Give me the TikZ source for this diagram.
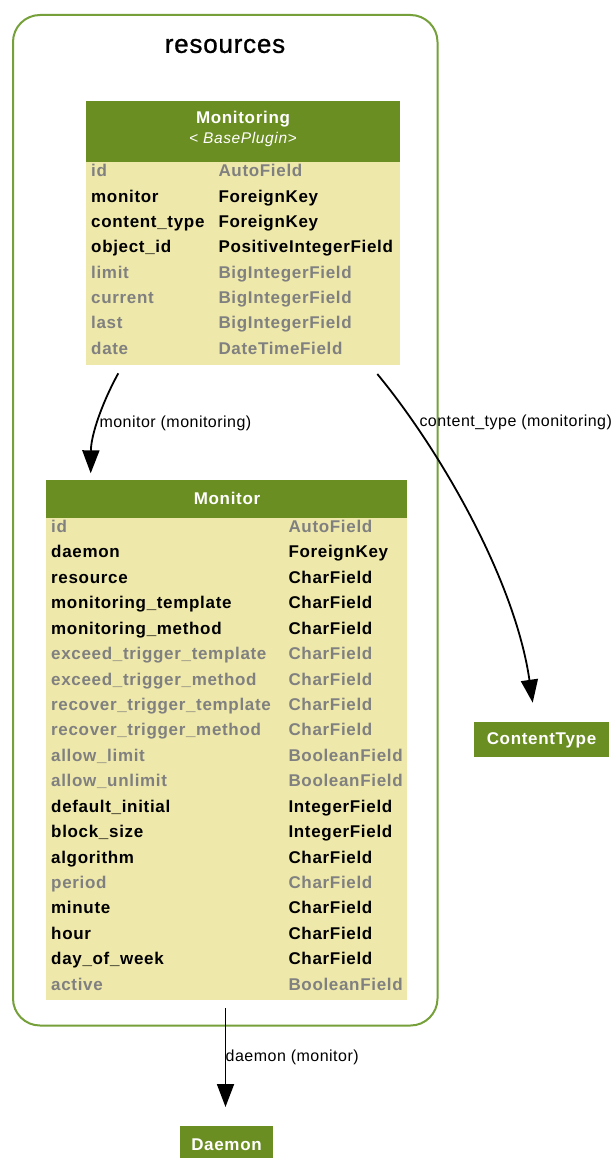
\documentclass[tikz,border=0pt]{standalone}
\usepackage{fontspec}
\usetikzlibrary{arrows.meta}
\newfontfamily\fieldfamily{Liberation Sans}[LetterSpace=4]
\newfontfamily\labelfamily{Liberation Sans}[LetterSpace=3]
\newfontfamily\titlefamily{Liberation Sans}[LetterSpace=3,FakeBold=1]
\definecolor{hdrgreen}{RGB}{107,142,35}
\definecolor{clustergreen}{RGB}{118,160,58}
\definecolor{bodyyellow}{RGB}{238,232,170}
\definecolor{fieldgray}{RGB}{128,128,128}
\tikzset{
  hdrbox/.style={fill=hdrgreen, draw=none, inner sep=0pt, outer sep=0pt, anchor=north west},
  bodybox/.style={fill=bodyyellow, draw=none, inner sep=0pt, outer sep=0pt, anchor=north west},
  fld/.style={anchor=mid west, inner sep=0pt, font={\fieldfamily\bfseries\fontsize{17}{19}\selectfont}},
  hdrtext/.style={anchor=center, inner sep=0pt, text=white, font={\fieldfamily\bfseries\fontsize{17}{19}\selectfont}},
  hdrsub/.style={anchor=center, inner sep=0pt, text=white, font={\fieldfamily\itshape\fontsize{15.5}{17}\selectfont}},
  dark/.style={fld, text=black},
  dim/.style={fld, text=fieldgray},
  edgelabel/.style={anchor=mid west, inner sep=0pt, font={\labelfamily\fontsize{16}{18}\selectfont}},
  conn/.style={draw=black, line width=1.8pt, -{Triangle[length=23pt,width=17pt]}},
  clusterbox/.style={draw=clustergreen, line width=2pt, rounded corners=27pt},
  cltitle/.style={anchor=center, inner sep=0pt, font={\titlefamily\fontsize{26}{28}\selectfont}}
}
\begin{document}
\begin{tikzpicture}[x=1pt,y=-1pt]
\useasboundingbox[fill=white] (0,0) rectangle (615,1158);
% cluster
\draw[clusterbox] (13,15) rectangle (437.5,1025.5);
\node[cltitle] (restitle) at (225,46) {resources};

% Monitoring table
\node[hdrbox, minimum width=314pt, minimum height=61pt] (monitoringhdr) at (86,101) {};
\node[bodybox, minimum width=314pt, minimum height=203pt] (monitoringbody) at (86,162) {};
\node[hdrtext] (monitoringtitle) at (243,119.5) {Monitoring};
\node[hdrsub] (monitoringsub) at (243,139.5) {< BasePlugin>};
\foreach \n/\t/\s [count=\i from 0] in {id/AutoField/dim, monitor/ForeignKey/dark, content\_type/ForeignKey/dark, object\_id/PositiveIntegerField/dark, limit/BigIntegerField/dim, current/BigIntegerField/dim, last/BigIntegerField/dim, date/DateTimeField/dim}{
  \node[\s] (mgn\i) at (91,174.5+25.35*\i) {\n};
  \node[\s] (mgt\i) at (218.3,174.5+25.35*\i) {\t};
}

% Monitor table
\node[hdrbox, minimum width=360.5pt, minimum height=37.5pt] (monitorhdr) at (46,480) {};
\node[bodybox, minimum width=360.5pt, minimum height=482.5pt] (monitorbody) at (46,517.5) {};
\node[hdrtext] (monitortitle) at (227,498) {Monitor};
\foreach \n/\t/\s [count=\i from 0] in {id/AutoField/dim, daemon/ForeignKey/dark, resource/CharField/dark, monitoring\_template/CharField/dark, monitoring\_method/CharField/dark, exceed\_trigger\_template/CharField/dim, exceed\_trigger\_method/CharField/dim, recover\_trigger\_template/CharField/dim, recover\_trigger\_method/CharField/dim, allow\_limit/BooleanField/dim, allow\_unlimit/BooleanField/dim, default\_initial/IntegerField/dark, block\_size/IntegerField/dark, algorithm/CharField/dark, period/CharField/dim, minute/CharField/dark, hour/CharField/dark, day\_of\_week/CharField/dark, active/BooleanField/dim}{
  \node[\s] (mon\i) at (51,530.3+25.43*\i) {\n};
  \node[\s] (mot\i) at (288.3,530.3+25.43*\i) {\t};
}

% ContentType and Daemon
\node[hdrbox, minimum width=135pt, minimum height=35pt] (contenttypebox) at (474,722) {};
\node[hdrtext] (contenttype) at (541.5,740.5) {ContentType};
\node[hdrbox, minimum width=93.5pt, minimum height=35pt] (daemonbox) at (179.5,1126) {};
\node[hdrtext] (daemon) at (226.5,1144.5) {Daemon};

% connectors
\coordinate (e1s) at (118.3,373.3);
\coordinate (e1t) at (90.7,473.3);
\coordinate (e2s) at (377.3,374);
\coordinate (e2t) at (532.7,702.7);
\coordinate (e3s) at (225.5,1008);
\coordinate (e3t) at (225.5,1107);
\draw[conn] (e1s) .. controls (102,403) and (91,435) .. (e1t);
\draw[conn] (e2s) .. controls (440,450) and (515,580) .. (e2t);
\draw[conn] (e3s) -- (e3t);
\node[edgelabel] (l1) at (99.3,425.5) {monitor (monitoring)};
\node[edgelabel] (l2) at (419.3,424.5) {content\_type (monitoring)};
\node[edgelabel] (l3) at (225.5,1059.5) {daemon (monitor)};
\end{tikzpicture}
\end{document}
